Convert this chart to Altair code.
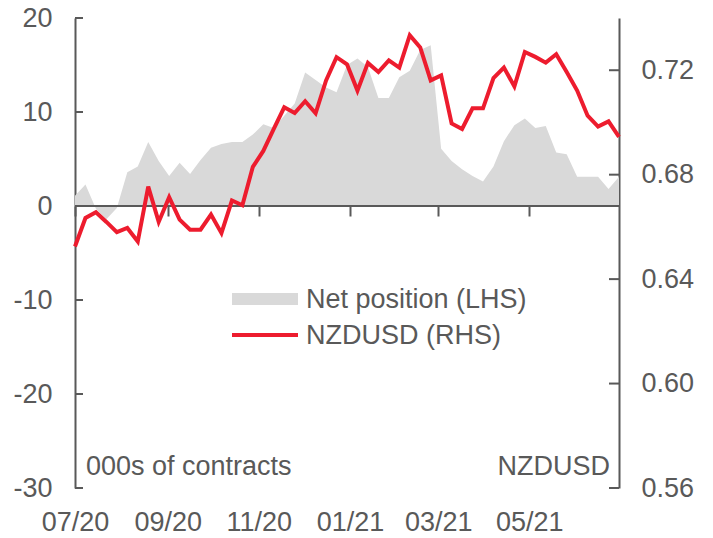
import altair as alt
import pandas as pd

# ---- data (weekly, Tuesdays) ----
net_position = [1.1, 2.3, -0.3, -1.4, -0.2, 3.6, 4.2, 6.8, 4.8, 3.2, 4.6, 3.4, 4.9,
                6.2, 6.6, 6.8, 6.8, 7.6, 8.7, 8.3, 9.6, 10.9, 14.2, 13.4, 12.6, 12.1,
                15.0, 15.7, 14.8, 11.5, 11.5, 13.7, 14.4, 16.6, 17.1, 6.1, 4.8, 3.9,
                3.2, 2.6, 4.2, 6.9, 8.6, 9.3, 8.3, 8.5, 5.7, 5.5, 3.1, 3.1, 3.1, 1.8, 3.1]
nzdusd = [0.6525, 0.6634, 0.6656, 0.6619, 0.6580, 0.6596, 0.6544, 0.6754, 0.6619,
          0.6714, 0.6628, 0.6589, 0.6589, 0.6647, 0.6576, 0.6701, 0.6683, 0.6830,
          0.6891, 0.6975, 0.7058, 0.7036, 0.7081, 0.7035, 0.7161, 0.7250, 0.7223,
          0.7122, 0.7228, 0.7193, 0.7238, 0.7210, 0.7334, 0.7287, 0.7161, 0.7180,
          0.6996, 0.6975, 0.7054, 0.7054, 0.7170, 0.7210, 0.7138, 0.7270, 0.7251,
          0.7229, 0.7261, 0.7193, 0.7122, 0.7026, 0.6984, 0.7004, 0.6945]
dates = pd.date_range("2020-07-07", periods=len(nzdusd), freq="7D").strftime("%Y-%m-%d").tolist()

x_tick_dates = ["2020-07-07", "2020-09-07", "2020-11-07", "2021-01-07", "2021-03-07", "2021-05-07"]
left_ticks = [-30, -20, -10, 0, 10, 20]
right_ticks = [0.56, 0.60, 0.64, 0.68, 0.72]
left_domain = [-30, 20]
right_domain = [0.56, 0.74]
legend_labels = ["Net position (LHS)", "NZDUSD (RHS)"]
axis_titles = ["000s of contracts", "NZDUSD"]

df = pd.DataFrame({"date": dates, "net": net_position, "nzd": nzdusd})


def ms(d):
    return int(pd.Timestamp(d, tz="UTC").timestamp() * 1000)


x_domain = [ms(dates[0]), ms(dates[-1])]
x_values = [ms(d) for d in x_tick_dates]

GREY_TXT = "#595959"
AREA = "#D9D9D9"
RED = "#ED1C2E"
FONT = "Liberation Sans"
FS = 27
W, H = 544, 470
ZERO_OFFSET = -round(H * (0 - left_domain[0]) / (left_domain[1] - left_domain[0]))

x_enc = alt.X(
    "date:T",
    scale=alt.Scale(type="utc", domain=x_domain),
    axis=alt.Axis(
        values=x_values, labelExpr="utcFormat(datum.value, '%m/%y')",
        offset=ZERO_OFFSET, domain=False, ticks=True, tickSize=10, tickWidth=2,
        tickColor=GREY_TXT, labelPadding=293, labelFlush=False, labelOverlap=False,
        labelFontSize=FS, labelColor=GREY_TXT, labelFont=FONT, grid=False, title=None,
    ),
)

left_axis = alt.Axis(values=left_ticks, domain=True, domainColor=GREY_TXT, domainWidth=2,
                     ticks=False, tickSize=0, labelPadding=23, labelFontSize=FS,
                     labelExpr="datum.value < 0 ? '-' + (-datum.value) : '' + datum.value",
                     labelColor=GREY_TXT, labelFont=FONT, grid=False, title=None)
right_axis = alt.Axis(orient="right", values=right_ticks, format=".2f", domain=True,
                      domainColor=GREY_TXT, domainWidth=2, ticks=False, tickSize=0,
                      labelPadding=22, labelFontSize=FS, labelColor=GREY_TXT,
                      labelFont=FONT, grid=False, title=None)

area = alt.Chart(df).mark_area(color=AREA).encode(
    x=x_enc,
    y=alt.Y("net:Q", scale=alt.Scale(domain=left_domain, nice=False, zero=False), axis=left_axis),
    y2=alt.datum(0),
)
zero_rule = alt.Chart(pd.DataFrame({"z": [0]})).mark_rule(color=GREY_TXT, strokeWidth=2).encode(
    y=alt.datum(0)
)
left_tick_marks = alt.Chart(pd.DataFrame({"v": left_ticks})).mark_rule(
    color=GREY_TXT, strokeWidth=2
).encode(
    y=alt.Y("v:Q", scale=alt.Scale(domain=left_domain, nice=False, zero=False), axis=left_axis),
    x=alt.value(0), x2=alt.value(8),
)
left_layer = alt.layer(area, zero_rule, left_tick_marks)

line = alt.Chart(df).mark_line(color=RED, strokeWidth=4).encode(
    x=x_enc,
    y=alt.Y("nzd:Q", scale=alt.Scale(domain=right_domain, nice=False, zero=False), axis=right_axis),
)
right_tick_marks = alt.Chart(pd.DataFrame({"v": right_ticks})).mark_rule(
    color=GREY_TXT, strokeWidth=2
).encode(
    y=alt.Y("v:Q", scale=alt.Scale(domain=right_domain, nice=False, zero=False), axis=right_axis),
    x=alt.value(W - 10), x2=alt.value(W),
)
right_layer = alt.layer(line, right_tick_marks)

# legend (drawn manually, as in the reference)
leg1 = pd.DataFrame({"label": [legend_labels[0]]})
leg2 = pd.DataFrame({"label": [legend_labels[1]]})
leg_rect = alt.Chart(leg1).mark_rect(color=AREA).encode(
    x=alt.value(157), x2=alt.value(223), y=alt.value(275), y2=alt.value(287))
leg_text1 = alt.Chart(leg1).mark_text(align="left", baseline="middle", font=FONT,
                                      fontSize=FS, color=GREY_TXT).encode(
    x=alt.value(231), y=alt.value(282), text="label:N")
leg_line = alt.Chart(leg2).mark_rule(color=RED, strokeWidth=4).encode(
    x=alt.value(157), x2=alt.value(223), y=alt.value(317))
leg_text2 = alt.Chart(leg2).mark_text(align="left", baseline="middle", font=FONT,
                                      fontSize=FS, color=GREY_TXT).encode(
    x=alt.value(231), y=alt.value(318), text="label:N")

t1 = alt.Chart(pd.DataFrame({"t": [axis_titles[0]]})).mark_text(
    align="left", baseline="middle", font=FONT, fontSize=FS, color=GREY_TXT).encode(
    x=alt.value(11), y=alt.value(449), text="t:N")
t2 = alt.Chart(pd.DataFrame({"t": [axis_titles[1]]})).mark_text(
    align="right", baseline="middle", font=FONT, fontSize=FS, color=GREY_TXT).encode(
    x=alt.value(535), y=alt.value(449), text="t:N")

chart = alt.layer(
    left_layer, right_layer, leg_rect, leg_text1, leg_line, leg_text2, t1, t2
).resolve_scale(y="independent").properties(
    width=W, height=H,
    padding={"left": 67, "top": 10, "right": 86, "bottom": 50},
    autosize=alt.AutoSizeParams(type="none"),
    background="white",
).configure_view(stroke=None)

chart.save("out.html", embed_options={"renderer": "svg", "actions": False})
